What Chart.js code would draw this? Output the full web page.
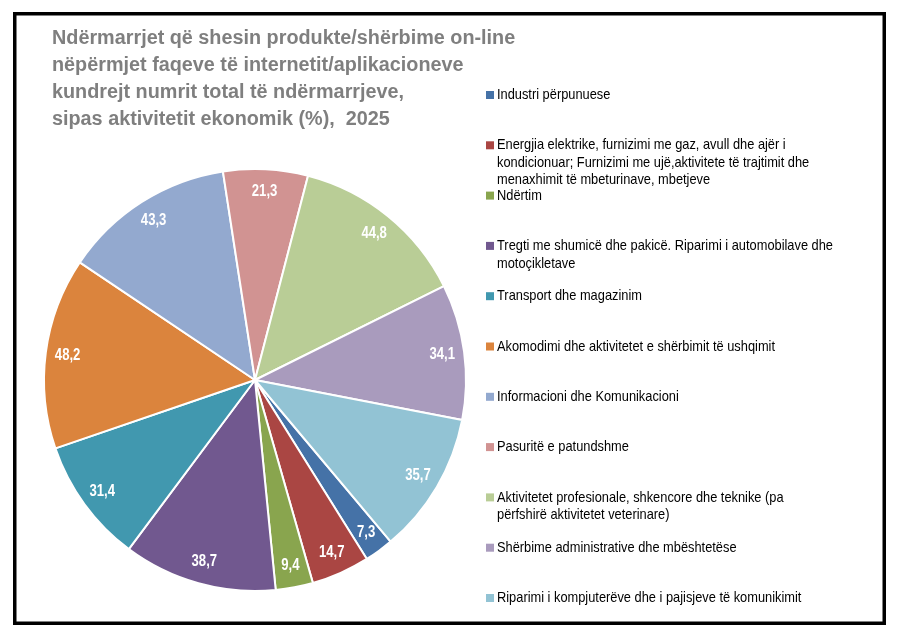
<!DOCTYPE html>
<html>
<head>
<meta charset="utf-8">
<script src="https://cdn.jsdelivr.net/npm/chart.js@4.4.1/dist/chart.umd.min.js"></script>
<style>
  html, body { margin: 0; padding: 0; background: #fff; }
  #wrap { width: 900px; height: 637px; }
</style>
</head>
<body>
<div id="wrap"><canvas id="c" width="900" height="637"></canvas></div>
<script>
'use strict';
const titleLines = [
    'Ndërmarrjet që shesin produkte/shërbime on-line',
    'nëpërmjet faqeve të internetit/aplikacioneve',
    'kundrejt numrit total të ndërmarrjeve,',
    'sipas aktivitetit ekonomik (%),  2025'
];

// emertimet e aktiviteteve, te ndara ne rreshta si ne legjende
const categories = [
    ['Industri përpunuese'],
    ['Energjia elektrike, furnizimi me gaz, avull dhe ajër i',
        'kondicionuar; Furnizimi me ujë,aktivitete të trajtimit dhe',
        'menaxhimit të mbeturinave, mbetjeve'],
    ['Ndërtim'],
    ['Tregti me shumicë dhe pakicë. Riparimi i automobilave dhe', 'motoçikletave'],
    ['Transport dhe magazinim'],
    ['Akomodimi dhe aktivitetet e shërbimit të ushqimit'],
    ['Informacioni dhe Komunikacioni'],
    ['Pasuritë e patundshme'],
    ['Aktivitetet profesionale, shkencore dhe teknike (pa', 'përfshirë aktivitetet veterinare)'],
    ['Shërbime administrative dhe mbështetëse'],
    ['Riparimi i kompjuterëve dhe i pajisjeve të komunikimit']
];

const values = [7.3, 14.7, 9.4, 38.7, 31.4, 48.2, 43.3, 21.3, 44.8, 34.1, 35.7];

const sliceColors = ['#4572A7', '#AA4643', '#89A54E', '#71588F', '#4198AF', '#DB843D',
    '#93A9CF', '#D19392', '#B9CD96', '#A99BBD', '#92C3D4'];

const sans = '"Liberation Sans", Arial, sans-serif';

// tekst i ngushtuar (nuk ka Arial Narrow)
function narrowText(ctx, txt, x, y, sx) {
    ctx.save();
    ctx.translate(x, y);
    ctx.scale(sx, 1);
    ctx.fillText(txt, 0, 0);
    ctx.restore();
}

// vlerat brenda fetave
const sliceLabels = {
    id: 'sliceLabels',
    afterDatasetsDraw(chart) {
        const ctx = chart.ctx;
        const arcs = chart.getDatasetMeta(0).data;
        ctx.save();
        ctx.fillStyle = '#ffffff';
        ctx.font = 'bold 16px ' + sans;
        ctx.textAlign = 'center';
        ctx.textBaseline = 'middle';
        arcs.forEach((arc, i) => {
            const p = arc.getProps(['x', 'y', 'startAngle', 'endAngle', 'outerRadius'], true);
            const mid = (p.startAngle + p.endAngle) / 2;
            const r = p.outerRadius - 22;
            const txt = values[i].toFixed(1).replace('.', ',');
            narrowText(ctx, txt, p.x + Math.cos(mid) * r, p.y + Math.sin(mid) * r, 0.82);
        });
        ctx.restore();
    }
};

// titulli, legjenda dhe korniza
const frame = {
    id: 'frame',
    afterDraw(chart) {
        const ctx = chart.ctx;
        ctx.save();
        ctx.strokeStyle = '#000';
        ctx.lineWidth = 3.5;
        ctx.strokeRect(14.75, 13.75, 869.5, 609.5);

        ctx.fillStyle = '#7f7f7f';
        ctx.font = 'bold 20px ' + sans;
        ctx.textBaseline = 'middle';
        titleLines.forEach((t, i) => narrowText(ctx, t, 52, 38 + i * 27, 0.99));

        ctx.font = '15px ' + sans;
        const ds = chart.data.datasets[0];
        chart.data.labels.forEach((lines, i) => {
            const y = 95 + i * 50.3;
            ctx.fillStyle = ds.backgroundColor[i];
            ctx.fillRect(486, y - 4, 8, 8);
            ctx.fillStyle = '#000';
            lines.forEach((l, j) => narrowText(ctx, l, 497, y + j * 17.5, 0.855));
        });
        ctx.restore();
    }
};

const chart = new Chart(document.getElementById('c'), {
    type: 'pie',
    data: {
        labels: categories,
        datasets: [{
            data: values,
            backgroundColor: sliceColors,
            borderColor: '#ffffff',
            borderWidth: 2
        }]
    },
    options: {
        responsive: false,
        animation: false,
        rotation: 140,
        layout: {
            padding: { left: 43, right: 433, top: 168, bottom: 45 }
        },
        plugins: {
            legend: { display: false },
            tooltip: { enabled: false }
        }
    },
    plugins: [sliceLabels, frame]
});
</script>
</body>
</html>
